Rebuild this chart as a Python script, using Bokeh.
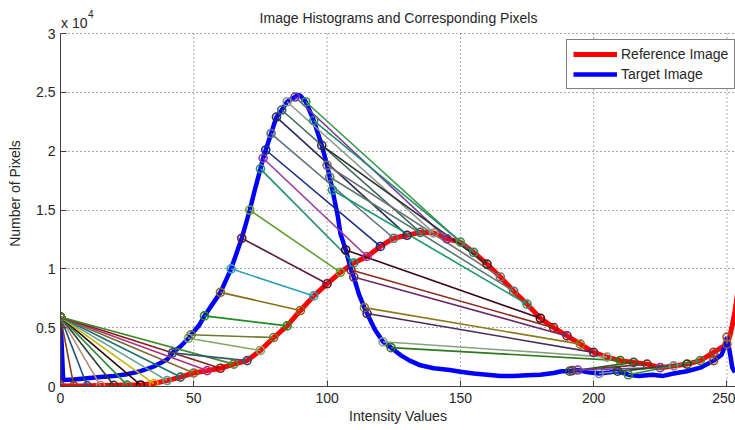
from bokeh.plotting import figure
from bokeh.models import (ColumnDataSource, Range1d, FixedTicker, Label, Legend,
                          LegendItem)
from bokeh.embed import file_html
from bokeh.resources import INLINE

# Reference image histogram (pixel counts at intensity levels)
ref_x = [0, 5, 10, 15, 20, 25, 30, 35, 40, 45, 50, 55, 60, 65, 70, 75, 80, 85,
         90, 95, 100, 105, 110, 115, 120, 125, 130, 135, 140, 145, 150, 155,
         160, 165, 170, 175, 180, 185, 190, 195, 200, 205, 210, 215, 220, 225,
         230, 235, 240, 245, 250, 251, 252, 253, 254]
ref_y = [50, 50, 60, 80, 100, 120, 130, 250, 500, 800, 1150, 1350, 1550, 1900,
         2200, 3060, 4160, 5150, 6460, 7700, 8730, 9700, 10500, 11050, 11900,
         12600, 12850, 13100, 13050, 12550, 12270, 11400, 10400, 9300, 8100,
         7000, 5800, 5000, 4300, 3600, 2900, 2500, 2200, 2050, 1900, 1600,
         1750, 1900, 2200, 2900, 3600, 4200, 5200, 6400, 8000]

# Target image histogram
tgt_x = [0, 1, 5, 10, 15, 20, 25, 30, 35, 40, 42, 45, 48, 49, 52, 54, 57, 60,
         64, 68, 71, 73, 75, 76, 77, 79, 81, 83, 85, 88, 89, 90, 92, 95, 98,
         100, 101, 102, 104, 105, 107, 109, 110, 112, 114, 115, 118, 121, 124,
         128, 131, 135, 140, 146, 150, 155, 160, 165, 170, 175, 180, 185, 188,
         191, 192, 194, 198, 202, 206, 209, 213, 217, 222, 226, 230, 235, 240,
         245, 248, 249, 250, 251, 252, 253]
tgt_y = [5900, 550, 600, 700, 800, 900, 1050, 1300, 1700, 2300, 2860, 3400,
         4100, 4400, 5200, 6000, 7000, 8000, 10000, 12600, 15000, 16800, 18500,
         19400, 20100, 21500, 22900, 23500, 24200, 24600, 24800, 24700, 24200,
         22600, 20500, 18800, 17800, 16700, 14500, 13000, 11600, 9900, 9300,
         7800, 6700, 6200, 4800, 3800, 3300, 2600, 2200, 1800, 1550, 1400,
         1250, 1100, 1000, 900, 900, 950, 1000, 1150, 1300, 1300, 1350, 1400,
         1200, 1100, 1200, 1300, 1000, 900, 1000, 900, 1100, 1300, 1600, 2200,
         2700, 3300, 4200, 3000, 1600, 1200]

# Corresponding pixels: reference intensity -> matched target intensity
match_ref = [0, 5, 10, 15, 20, 25, 30, 35, 40, 45, 50, 55, 60, 65, 70, 75, 80,
             85, 90, 95, 100, 105, 110, 115, 120, 125, 130, 135, 140, 145, 150,
             155, 160, 165, 170, 175, 180, 185, 190, 195, 200, 205, 210, 215,
             220, 225, 230, 235, 240, 245, 250]
match_tgt = [0, 0, 0, 0, 0, 0, 0, 0, 0, 0, 0, 0, 0, 0, 42, 48, 49, 54, 60, 64,
             68, 71, 75, 76, 77, 79, 81, 83, 85, 88, 92, 95, 98, 100, 101, 102,
             107, 109, 110, 114, 115, 121, 124, 191, 192, 194, 202, 209, 213,
             245, 250]
match_colors = ["#8b3a2a", "#8b4513", "#1f4e79", "#b08a70", "#2f3f2f",
                "#2e8b3e", "#300808", "#c8b400", "#5f9f8f", "#1e6e6e",
                "#7a6a2e", "#b03080", "#8b1a1a", "#3c8c2c", "#3a5070",
                "#7fa860", "#6b7b2b", "#1e8c1e", "#8b6914", "#2aa0b8",
                "#5a1a3a", "#60a030", "#1f9070", "#9a3aa0", "#1a2a8a",
                "#607080", "#2a2a5a", "#3a6a5a", "#8a9a8a", "#7a3a9a",
                "#3a9a4a", "#2a8a6a", "#303030", "#707070", "#5a7a6a",
                "#1a9a6a", "#3a0a1a", "#8a2a1a", "#6a2a6a", "#8a7a1a",
                "#4a2a5a", "#8aa080", "#2a7a1a", "#2a5a2a", "#6a3a2a",
                "#7a3aa0", "#7a8aa0", "#1a4a1a", "#3a8a3a", "#8a4a2a",
                "#a05a2a"]

x_ticks = [0, 50, 100, 150, 200, 250]
y_ticks = [0, 5000, 10000, 15000, 20000, 25000, 30000]
y_tick_labels = ["0", "0.5", "1", "1.5", "2", "2.5", "3"]

FONT = "Liberation Sans"
TEXT = "#262626"

X_END = 253.2
Y_TOP = 30000
# the frame reaches the top of the canvas so the header texts sit inside it
Y_END = Y_TOP * 386 / 353

p = figure(width=735, height=430, x_range=Range1d(0, X_END),
           y_range=Range1d(0, Y_END), output_backend="svg",
           toolbar_location=None, min_border_left=60, min_border_right=0,
           min_border_top=0, min_border_bottom=44)
p.outline_line_color = None

p.xaxis.ticker = FixedTicker(ticks=x_ticks)
p.yaxis.ticker = FixedTicker(ticks=y_ticks)
p.yaxis.major_label_overrides = dict(zip(y_ticks, y_tick_labels))
p.yaxis.bounds = (0, Y_TOP)
p.xaxis.axis_label = "Intensity Values"
p.yaxis.axis_label = "Number of Pixels"
for ax in (p.xaxis, p.yaxis):
    ax.axis_line_color = "#404040"
    ax.major_tick_line_color = "#404040"
    ax.major_tick_in = 6
    ax.major_tick_out = 0
    ax.minor_tick_line_color = None
    ax.major_label_text_font = FONT
    ax.major_label_text_font_size = "14px"
    ax.major_label_text_color = TEXT
    ax.axis_label_text_font = FONT
    ax.axis_label_text_font_size = "14px"
    ax.axis_label_text_font_style = "normal"
    ax.axis_label_text_color = TEXT
    ax.major_label_standoff = 5
p.yaxis.axis_label_standoff = 10
p.xaxis.major_label_standoff = 6
p.xaxis.axis_label_standoff = 2

GRID = dict(line_color="#202020", line_alpha=0.75, line_dash="1 3",
            line_width=1)
p.xgrid.visible = False
p.ygrid.ticker = p.yaxis.ticker
p.ygrid.grid_line_color = GRID["line_color"]
p.ygrid.grid_line_alpha = GRID["line_alpha"]
p.ygrid.grid_line_dash = GRID["line_dash"]
# vertical grid lines stop at the top of the value axis
p.segment(x0=x_ticks[1:], y0=0, x1=x_ticks[1:], y1=Y_TOP, **GRID)

red_r = p.line(ref_x, ref_y, line_color="red", line_width=5)
blue_r = p.line(tgt_x, tgt_y, line_color="blue", line_width=4.5)

# connector segments between matched target and reference bins
tgt_lookup = dict(zip(tgt_x, tgt_y))
ref_lookup = dict(zip(ref_x, ref_y))
xs, ys = [], []
for r, t in zip(match_ref, match_tgt):
    xs.append([t, r])
    ys.append([tgt_lookup[t], ref_lookup[r]])
seg = ColumnDataSource(dict(xs=xs, ys=ys, color=match_colors))
p.multi_line("xs", "ys", source=seg, line_color="color", line_width=1.6)

pts = ColumnDataSource(dict(
    x=[s[0] for s in xs] + [s[1] for s in xs],
    y=[s[0] for s in ys] + [s[1] for s in ys],
    color=match_colors + match_colors))
p.scatter("x", "y", source=pts, marker="circle", size=8, fill_color=None,
          line_color="color", line_width=1.6)

# header texts: title and the axis multiplier
px_per_y = Y_END / 386.0
p.add_layout(Label(x=X_END * (398 - 60) / 675, y=(386 - 17) * px_per_y,
                   text="Image Histograms and Corresponding Pixels",
                   text_font=FONT, text_font_size="14px", text_color=TEXT,
                   text_align="center", text_baseline="alphabetic"))
p.add_layout(Label(x=X_END * 0.5 / 675, y=(386 - 22) * px_per_y, text="x 10",
                   text_font=FONT, text_font_size="14px", text_color=TEXT,
                   text_baseline="alphabetic"))
p.add_layout(Label(x=X_END * 27.5 / 675, y=(386 - 13) * px_per_y, text="4",
                   text_font=FONT, text_font_size="10px", text_color=TEXT,
                   text_baseline="alphabetic"))

legend = Legend(items=[LegendItem(label="Reference Image", renderers=[red_r]),
                       LegendItem(label="Target Image", renderers=[blue_r])],
                location=(506, 297))
legend.border_line_color = "#000000"
legend.border_line_width = 1
legend.padding = 6
legend.spacing = 4
legend.margin = 0
legend.glyph_width = 44
legend.glyph_height = 16
legend.label_height = 16
legend.label_standoff = 4
legend.label_text_font = FONT
legend.label_text_font_size = "14px"
legend.label_text_color = TEXT
p.add_layout(legend)

open("out.html", "w").write(file_html(p, INLINE))
